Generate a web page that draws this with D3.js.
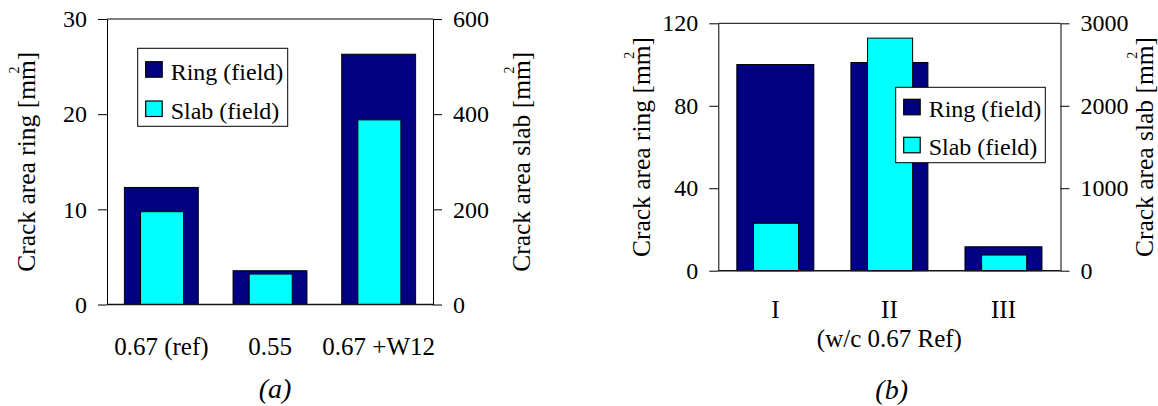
<!DOCTYPE html>
<html><head><meta charset="utf-8">
<script src="https://cdn.jsdelivr.net/npm/d3@7"></script>
<style>
html,body{margin:0;padding:0;background:#fff;}
svg{display:block;}
text{font-family:"Liberation Serif","Times New Roman",serif;fill:#000;}
</style></head>
<body><svg id="chart" width="1158" height="406"></svg>
<script>
// ---- data ----
const seriesNames = ["Ring (field)", "Slab (field)"];
const categoriesA = ["0.67 (ref)", "0.55", "0.67 +W12"];
const ringA = [12.3, 3.55, 26.3];
const slabA = [195, 64, 388];
const ringTicksA = [0, 10, 20, 30];
const slabTicksA = [0, 200, 400, 600];

const categoriesB = ["I", "II", "III"];
const ringB = [100, 101, 11.6];
const slabB = [575, 2820, 190];
const ringTicksB = [0, 40, 80, 120];
const slabTicksB = [0, 1000, 2000, 3000];

const ringTitle = "Crack area ring [mm]";
const slabTitle = "Crack area slab [mm]";
const captionA = "(a)", captionB = "(b)";
const subLabelB = "(w/c 0.67 Ref)";

const colRing = "#000080", colSlab = "#00FFFF";
const svg = d3.select("#chart");
const FS = 24, FSCAT = 25, FSTITLE = 25.5, FSLEG = 24;

function panel(o) {
  const g = svg.append("g");
  const x = d3.scaleBand().domain(o.cats).range([o.left, o.right])
    .paddingInner(1 - o.ringFrac).paddingOuter((1 - o.ringFrac) / 2);
  const yR = d3.scaleLinear().domain([0, d3.max(o.ringTicks)]).range([o.bottom, o.top]);
  const yS = d3.scaleLinear().domain([0, d3.max(o.slabTicks)]).range([o.bottom, o.top]);
  const step = x.step();
  const slabW = step * o.slabFrac;

  g.selectAll("rect.ring").data(o.ring).enter().append("rect")
    .attr("x", (d, i) => x(o.cats[i]))
    .attr("y", d => yR(d))
    .attr("width", x.bandwidth())
    .attr("height", d => yR(0) - yR(d))
    .attr("fill", colRing).attr("stroke", "#000").attr("stroke-width", 1);
  g.selectAll("rect.slab").data(o.slab).enter().append("rect")
    .attr("x", (d, i) => x(o.cats[i]) + x.bandwidth() / 2 - slabW / 2 + 0.7)
    .attr("y", d => yS(d))
    .attr("width", slabW)
    .attr("height", d => yS(0) - yS(d))
    .attr("fill", colSlab).attr("stroke", "#000").attr("stroke-width", 1);

  g.append("line").attr("x1", o.left).attr("x2", o.right).attr("y1", o.top).attr("y2", o.top)
    .attr("stroke", "#000").attr("stroke-width", 1);
  g.append("line").attr("x1", o.left).attr("x2", o.right).attr("y1", o.bottom).attr("y2", o.bottom)
    .attr("stroke", "#111").attr("stroke-width", 1.6);

  const la = g.append("g").attr("transform", `translate(${o.left},0)`)
    .call(d3.axisLeft(yR).tickValues(o.ringTicks).tickSize(9).tickSizeOuter(0).tickPadding(11).tickFormat(d3.format("d")));
  const ra = g.append("g").attr("transform", `translate(${o.right},0)`)
    .call(d3.axisRight(yS).tickValues(o.slabTicks).tickSize(9).tickSizeOuter(0).tickPadding(11).tickFormat(d3.format("d")));
  [la, ra].forEach(a => {
    a.selectAll("text").style("font-size", FS + "px");
    a.selectAll("line,path").attr("stroke", "#000");
    a.attr("font-family", null).attr("font-size", null);
  });

  const ba = g.append("g").attr("transform", `translate(0,${o.bottom})`)
    .call(d3.axisBottom(x).tickSize(0).tickPadding(o.catPad));
  ba.select(".domain").remove();
  ba.attr("font-family", null).attr("font-size", null);
  ba.selectAll("text").style("font-size", FSCAT + "px");

  title(g, o.titleL, o.titleLx, (o.top + o.bottom) / 2);
  title(g, o.titleR, o.titleRx, (o.top + o.bottom) / 2);

  const lg = g.append("g");
  lg.append("rect").attr("x", o.leg[0]).attr("y", o.leg[1]).attr("width", o.leg[2]).attr("height", o.leg[3])
    .attr("fill", "#fff").attr("stroke", "#000").attr("stroke-width", 1);
  seriesNames.forEach((n, i) => {
    const sy = o.leg[1] + o.swTop + i * o.swGap;
    lg.append("rect").attr("x", o.leg[0] + 8).attr("y", sy).attr("width", 16.5).attr("height", 15.5)
      .attr("fill", i === 0 ? colRing : colSlab).attr("stroke", "#000").attr("stroke-width", 1.2);
    lg.append("text").attr("x", o.leg[0] + 33).attr("y", sy + 18).style("font-size", FSLEG + "px").text(n);
  });

  if (o.sub) {
    g.append("text").attr("x", (o.left + o.right) / 2).attr("y", o.subY).attr("text-anchor", "middle")
      .style("font-size", FSCAT + "px").text(o.sub);
  }
  g.append("text").attr("x", o.capX).attr("y", o.capY).attr("text-anchor", "middle")
    .style("font-size", "28px").style("font-style", "italic").text(o.caption);
}

function title(g, str, bx, cy) {
  const t = g.append("g").attr("transform", `translate(${bx},${cy}) rotate(-90)`);
  const tx = t.append("text").style("font-size", FSTITLE + "px").text(str);
  const node = tx.node();
  const L = node.getComputedTextLength();
  tx.attr("x", -L / 2);
  const im = str.lastIndexOf("m");
  const a = node.getSubStringLength(0, im);
  const w = node.getSubStringLength(im, 1);
  t.append("text").attr("x", -L / 2 + a + w / 2).attr("y", -16).attr("text-anchor", "middle")
    .style("font-size", "14px").text("2");
}

panel({
  cats: categoriesA, ring: ringA, slab: slabA, ringTicks: ringTicksA, slabTicks: slabTicksA,
  left: 107, right: 433, top: 19, bottom: 304.5, ringFrac: 0.68, slabFrac: 0.396, catPad: 33,
  titleL: ringTitle, titleLx: 35, titleR: slabTitle, titleRx: 530,
  leg: [137.7, 48.3, 150, 78], swTop: 13.4, swGap: 39.3,
  caption: captionA, capX: 275, capY: 398
});
panel({
  cats: categoriesB, ring: ringB, slab: slabB, ringTicks: ringTicksB, slabTicks: slabTicksB,
  left: 718.3, right: 1060.5, top: 23.3, bottom: 270.7, ringFrac: 0.675, slabFrac: 0.395, catPad: 30,
  titleL: ringTitle, titleLx: 650, titleR: slabTitle, titleRx: 1153,
  leg: [895.7, 87.3, 149.6, 75.4], swTop: 12, swGap: 38,
  sub: subLabelB, subY: 347,
  caption: captionB, capX: 891.7, capY: 399
});
</script></body></html>
